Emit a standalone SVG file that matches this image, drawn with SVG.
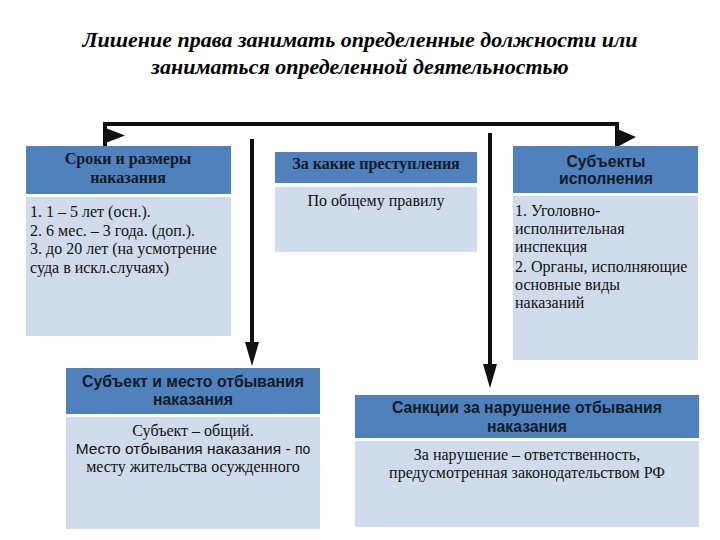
<svg xmlns="http://www.w3.org/2000/svg" width="720" height="540" viewBox="0 0 720 540">
<defs>
<style>
.hd{fill:#4F81BD}
.bd{fill:#D0DCEB}
.ts{font-family:"Liberation Serif","Times New Roman",serif;font-weight:bold;font-size:16px;fill:#0F1A26;text-anchor:middle}
.tsa{font-family:"Liberation Sans",Arial,sans-serif;font-weight:bold;font-size:15.8px;fill:#0F1A26;text-anchor:middle}
.bt{font-family:"Liberation Serif","Times New Roman",serif;font-size:16px;fill:#111}
.bs{font-family:"Liberation Sans",Arial,sans-serif;font-size:15.5px;fill:#111}
.title{font-family:"Liberation Serif","Times New Roman",serif;font-weight:bold;font-style:italic;font-size:22px;fill:#000;text-anchor:middle}
.ln{fill:none;stroke:#111;stroke-width:4}
.ah{fill:#111}
</style>
</defs>
<rect width="720" height="540" fill="#fff"/>
<g id="title">
<text class="title" x="360" y="47">Лишение права занимать определенные должности или</text>
<text class="title" x="360" y="74">заниматься определенной деятельностью</text>
</g>
<g id="connectors">
<polyline class="ln" points="105,146 105,124 617,124 617,148"/>
<polygon class="ah" points="103,127 125,135.5 103,144"/>
<polygon class="ah" points="615,128 636,137 615,148"/>
<line class="ln" x1="252" y1="139" x2="252" y2="344"/>
<polygon class="ah" points="245,342 259,342 252,366"/>
<line class="ln" x1="490" y1="133" x2="490" y2="366"/>
<polygon class="ah" points="483,364 497,364 490,388"/>
</g>
<g id="node-sroki">
<rect class="hd" x="26" y="146" width="205" height="48"/>
<rect class="bd" x="26" y="197" width="205" height="139"/>
<text class="ts" x="128" y="164">Сроки и размеры</text>
<text class="ts" x="128" y="183">наказания</text>
<text class="bt" x="30" y="217">1. 1 – 5 лет (осн.).</text>
<text class="bt" x="30" y="236">2. 6 мес. – 3 года. (доп.).</text>
<text class="bt" x="30" y="254">3. до 20 лет (на усмотрение</text>
<text class="bt" x="30" y="273">суда в искл.случаях)</text>
</g>
<g id="node-za-kakie">
<rect class="hd" x="275" y="152" width="202" height="31"/>
<rect class="bd" x="275" y="187" width="202" height="65"/>
<text class="ts" x="376" y="169">За какие преступления</text>
<text class="bt" x="376" y="206" text-anchor="middle">По общему правилу</text>
</g>
<g id="node-subekty">
<rect class="hd" x="513" y="146" width="185" height="47"/>
<rect class="bd" x="513" y="196" width="185" height="164"/>
<text class="tsa" x="606" y="167" font-size="15">Субъекты</text>
<text class="tsa" x="606" y="184" font-size="15">исполнения</text>
<text class="bt" x="515" y="216" font-size="16.5">1. Уголовно-</text>
<text class="bt" x="515" y="234" font-size="16.5">исполнительная</text>
<text class="bt" x="515" y="252" font-size="16.5">инспекция</text>
<text class="bt" x="515" y="272" font-size="16.5">2. Органы, исполняющие</text>
<text class="bt" x="515" y="290" font-size="16.5">основные виды</text>
<text class="bt" x="515" y="308" font-size="16.5">наказаний</text>
</g>
<g id="node-mesto">
<rect class="hd" x="66" y="368" width="254" height="46"/>
<rect class="bd" x="66" y="417" width="254" height="112"/>
<text class="tsa" x="193" y="387">Субъект и место отбывания</text>
<text class="tsa" x="193" y="405">наказания</text>
<text class="bt" x="193" y="436" text-anchor="middle">Субъект – общий.</text>
<text class="bs" x="193" y="454" text-anchor="middle">Место отбывания наказания - <tspan font-size="14">по</tspan></text>
<text class="bt" x="193" y="472" text-anchor="middle">месту жительства осужденного</text>
</g>
<g id="node-sankcii">
<rect class="hd" x="355" y="395" width="344" height="43"/>
<rect class="bd" x="355" y="441" width="344" height="86"/>
<text class="tsa" x="527" y="413">Санкции за нарушение отбывания</text>
<text class="tsa" x="527" y="432">наказания</text>
<text class="bt" x="527" y="460" text-anchor="middle">За нарушение – ответственность,</text>
<text class="bt" x="527" y="478" text-anchor="middle">предусмотренная законодательством РФ</text>
</g>
</svg>
